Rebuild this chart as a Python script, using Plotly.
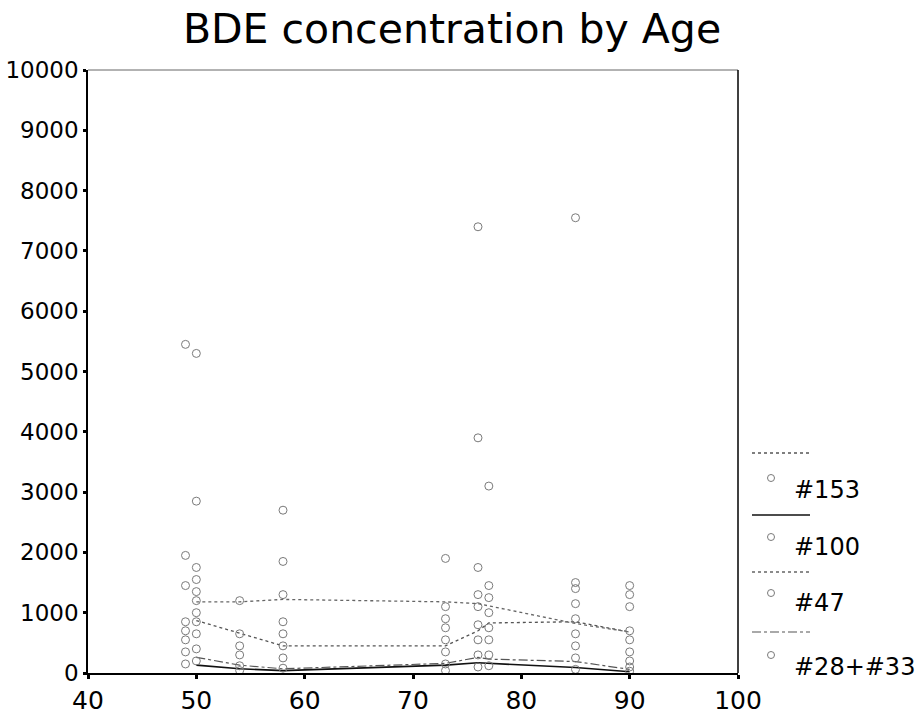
import plotly.graph_objects as go

# ---------------- data ----------------
series_names = ["#153", "#100", "#47", "#28+#33"]

# individual measurements (age, concentration)
x_153 = [49, 49, 50, 50, 50, 54, 58, 58, 73, 73, 76, 76, 77, 77, 85, 85, 90, 90]
y_153 = [1950, 1450, 1750, 1550, 1350, 650, 1300, 850, 1100, 750, 1750, 1300, 1450, 1250, 1400, 1150, 1450, 1100]

x_100 = [49, 49, 50, 50, 54, 58, 58, 73, 73, 76, 76, 77, 77, 85, 85, 90, 90]
y_100 = [850, 700, 1000, 850, 450, 650, 450, 900, 550, 1100, 800, 1000, 750, 900, 650, 550, 350]

x_47 = [49, 50, 50, 50, 54, 58, 58, 73, 76, 76, 77, 85, 85, 90, 90]
y_47 = [5450, 5300, 2850, 1200, 1200, 2700, 1850, 1900, 7400, 3900, 3100, 7550, 1500, 1300, 700]

x_28 = [49, 49, 49, 50, 50, 50, 54, 54, 54, 58, 58, 73, 73, 73, 76, 76, 76, 77, 77, 77, 85, 85, 85, 90, 90, 90]
y_28 = [550, 350, 150, 650, 400, 200, 300, 120, 40, 250, 80, 350, 150, 40, 550, 300, 100, 550, 300, 120, 450, 250, 60, 200, 100, 30]

# trend lines drawn through each congener
line_x_153 = [50, 54, 58, 73, 76, 77, 85, 90]
line_y_153 = [870, 660, 450, 450, 700, 830, 850, 680]

line_x_100 = [50, 54, 58, 73, 76, 77, 85, 90]
line_y_100 = [130, 70, 40, 130, 170, 160, 90, 20]

line_x_47 = [50, 54, 58, 73, 76, 85, 90]
line_y_47 = [1180, 1180, 1220, 1180, 1150, 820, 680]

line_x_28 = [50, 54, 58, 73, 76, 77, 85, 90]
line_y_28 = [260, 130, 70, 160, 260, 230, 190, 60]

x_ticks = [40, 50, 60, 70, 80, 90, 100]
y_ticks = [0, 1000, 2000, 3000, 4000, 5000, 6000, 7000, 8000, 9000, 10000]
y_tick_text = [str(v) for v in y_ticks]

title_text = "BDE concentration by Age"

# ---------------- figure ----------------
FONT = "DejaVu Sans"
W, H = 916, 718
ML, MR, MT, MB = 88, 178, 70, 45

fig = go.Figure()

pts = [(x_153, y_153), (x_100, y_100), (x_47, y_47), (x_28, y_28)]
lines = [(line_x_153, line_y_153, "dot", "#555", 1.3),
         (line_x_100, line_y_100, "solid", "#111", 1.6),
         (line_x_47, line_y_47, "dot", "#666", 1.3),
         (line_x_28, line_y_28, "dashdot", "#555", 1.2)]

for name, (px, py), (lx, ly, dash, col, lw) in zip(series_names, pts, lines):
    fig.add_trace(go.Scatter(x=lx, y=ly, mode="lines", name=name,
                             line=dict(color=col, width=lw, dash=dash),
                             showlegend=False, hoverinfo="skip"))
    fig.add_trace(go.Scatter(x=px, y=py, mode="markers", name=name,
                             marker=dict(symbol="circle-open", size=8,
                                         color="#7a7a7a", line=dict(width=1)),
                             showlegend=False))

# manual legend (line sample above, marker + label below)
def px2x(p):
    return (p - ML) / (W - ML - MR)

def py2y(p):
    return (H - MB - p) / (H - MT - MB)

shapes = []
annotations = []
leg_line_y = [453, 515, 572, 632]
leg_mark_y = [478, 537, 593, 655]
leg_text_y = [490, 547, 603, 667]
for i, (name, (_, _, dash, col, lw)) in enumerate(zip(series_names, lines)):
    shapes.append(dict(type="line", xref="paper", yref="paper",
                       x0=px2x(752), x1=px2x(810),
                       y0=py2y(leg_line_y[i]), y1=py2y(leg_line_y[i]),
                       line=dict(color=col, width=lw, dash=dash)))
    shapes.append(dict(type="circle", xref="paper", yref="paper",
                       xsizemode="pixel", ysizemode="pixel",
                       xanchor=px2x(771), yanchor=py2y(leg_mark_y[i]),
                       x0=-3.5, x1=3.5, y0=-3.5, y1=3.5,
                       line=dict(color="#7a7a7a", width=1)))
    annotations.append(dict(text=name, xref="paper", yref="paper",
                            x=px2x(792), y=py2y(leg_text_y[i]),
                            xanchor="left", yanchor="middle", showarrow=False,
                            font=dict(family=FONT, size=24, color="black")))

# thin top border of plot frame
shapes.append(dict(type="line", xref="paper", yref="paper", x0=0, x1=1, y0=1, y1=1,
                   line=dict(color="#666", width=1)))
# right border
shapes.append(dict(type="line", xref="paper", yref="paper", x0=1, x1=1, y0=0, y1=1,
                   line=dict(color="black", width=1.5)))

fig.update_layout(
    width=W, height=H,
    margin=dict(l=ML, r=MR, t=MT, b=MB, pad=0, autoexpand=False),
    paper_bgcolor="white", plot_bgcolor="white",
    title=dict(text=title_text, x=452 / W, xanchor="center",
               y=1 - 29 / H, yanchor="middle",
               font=dict(family=FONT, size=41, color="black")),
    shapes=shapes, annotations=annotations,
    showlegend=False,
    font=dict(family=FONT, size=24, color="black"),
)
fig.update_xaxes(range=[40, 100], tickvals=x_ticks, ticktext=[str(v) for v in x_ticks],
                 automargin=False,
                 showgrid=False, zeroline=False, showline=True, linecolor="black",
                 linewidth=2, ticks="outside", ticklen=4, tickwidth=3, tickcolor="black",
                 ticklabelstandoff=0,
                 tickfont=dict(family=FONT, size=25, color="black"))
fig.update_yaxes(range=[0, 10000], tickvals=y_ticks, ticktext=y_tick_text,
                 automargin=False,
                 showgrid=False, zeroline=False, showline=True, linecolor="black",
                 linewidth=1.5, ticks="outside", ticklen=3, tickwidth=3, tickcolor="black",
                 tickfont=dict(family=FONT, size=23, color="black"))

fig.write_html("out.html")
